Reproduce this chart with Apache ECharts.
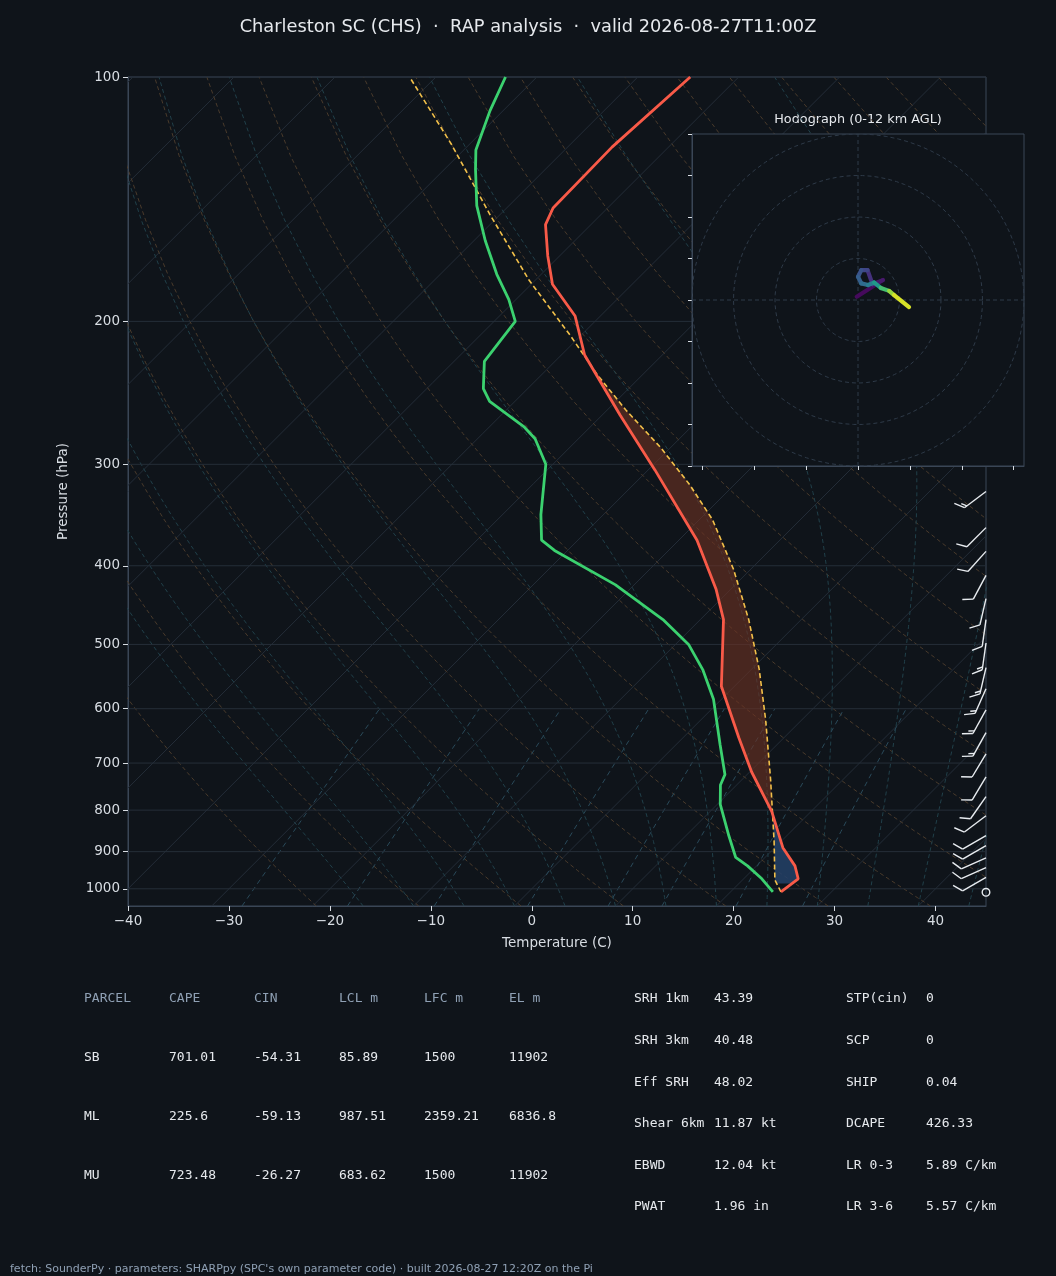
<!DOCTYPE html>
<html><head><meta charset="utf-8">
<script src="https://cdn.jsdelivr.net/npm/echarts@6/dist/echarts.min.js"></script>
<style>html,body{margin:0;padding:0;background:#0f141a}#c{width:1056px;height:1276px}</style>
</head><body><div id="c"></div>
<script>
// ---- data ----
const tempP = [1009,972,937,890,803,718,651,563,466,428,372,305,261,220,197,180,166,152,145,122,100];
const tempT = [25.0,25.4,23.8,20.8,16.1,10.2,5.5,-1.3,-7.7,-11.4,-18.2,-29.3,-38.2,-47.7,-52.5,-57.9,-61.2,-64.5,-65.4,-65.6,-64.8];
const dewP = [1009,972,937,915,861,787,745,723,665,584,537,500,466,422,383,372,346,300,279,270,251,242,224,200,188,175,159,144,130,123,110,100];
const dewT = [24.2,21.8,19.1,17.1,14.3,10.3,8.4,7.8,4.4,-0.8,-4.8,-8.7,-13.7,-21.9,-31.3,-33.6,-36.2,-40.7,-44.3,-46.5,-52.5,-54.4,-57.0,-57.9,-60.7,-64.4,-68.9,-73.2,-76.9,-78.8,-81.3,-83.1];
const parcelP = [1009,975,874,733,619,537,466,404,351,318,286,257,233,208,178,148,121,100];
const parcelT = [25.0,23.2,19.3,12.8,6.4,0.8,-5.2,-11.7,-18.7,-24.4,-31.0,-38.2,-44.4,-51.1,-60.6,-70.9,-81.8,-92.6];
const windP = [324,359,384,411,439,466,498,534,567,602,642,682,728,770,813,860,885,916,942,968];
const windDir = [233,225,222,208,193,188,188,193,204,209,209,211,211,215,233,240,240,246,246,240];
const windSpd = [15,10,10,10,10,10,15,15,15,15,15,10,10,10,10,10,10,10,10,10];
const calmP = 1010;
const hodoU = [-0.3,6,3.5,2.3,0.8,0,0.8,2.4,3.9,5.5,7.5,8.7,12.3];
const hodoV = [0.8,4.8,3.8,7.2,7.2,5.6,4.0,3.6,4.2,2.9,2.2,1.2,-1.7];
const hodoH = [0,0.6,1.2,2.2,2.8,3.3,3.8,4.6,5.6,7.2,9.6,10.6,12];
const pressureTicks = [100,200,300,400,500,600,700,800,900,1000];
const tempTicks = [-40,-30,-20,-10,0,10,20,30,40];
const parcelHeader = ['PARCEL','CAPE','CIN','LCL m','LFC m','EL m'];
const parcelRows = [
 ['SB','701.01','-54.31','85.89','1500','11902'],
 ['ML','225.6','-59.13','987.51','2359.21','6836.8'],
 ['MU','723.48','-26.27','683.62','1500','11902']];
const indexLeft = [['SRH 1km','43.39'],['SRH 3km','40.48'],['Eff SRH','48.02'],['Shear 6km','11.87 kt'],['EBWD','12.04 kt'],['PWAT','1.96 in']];
const indexRight = [['STP(cin)','0'],['SCP','0'],['SHIP','0.04'],['DCAPE','426.33'],['LR 0-3','5.89 C/km'],['LR 3-6','5.57 C/km']];
const titleText = 'Charleston SC (CHS)  ·  RAP analysis  ·  valid 2026-08-27T11:00Z';
const footerText = "fetch: SounderPy · parameters: SHARPpy (SPC's own parameter code) · built 2026-08-27 12:20Z on the Pi";

// ---- skew transform ----
const K = 80.5;
const sk = (t,p) => t + K*Math.log10(1000/p);
const prof = (P,T) => P.map((p,i)=>[sk(T[i],p),p]);

function interp(P,T,p){
  for(let i=0;i<P.length-1;i++){
    if(p<=P[i] && p>=P[i+1]){
      const f=(Math.log(p)-Math.log(P[i]))/(Math.log(P[i+1])-Math.log(P[i]));
      return T[i]+f*(T[i+1]-T[i]);
    }
  }
  return null;
}
function fillPoly(pBot,pTop,parcelAbove){
  const up=[],lo=[];
  for(let p=pBot;p>=pTop;p-=2){
    const a=sk(interp(parcelP,parcelT,p),p), b=sk(interp(tempP,tempT,p),p);
    if(parcelAbove){ up.push([Math.max(a,b),p]); lo.push([b,p]); }
    else { up.push([Math.max(a,b),p]); lo.push([a,p]); }
  }
  return up.concat(lo.reverse());
}
const capePoly = fillPoly(830,205,true);
const cinPoly = fillPoly(985,815,false);

// background lines
const bg=[];
for(let t=-120;t<=50;t+=10) bg.push({type:'iso',d:[[sk(t,1050),1050],[sk(t,100),100]]});
for(let th=250;th<=480;th+=10){const d=[];for(let p=1050;p>=100;p-=25)d.push([sk(th*Math.pow(p/1000,0.286)-273.15,p),p]);bg.push({type:'dry',d});}
function mlapse(T,p){const tc=T-273.15;const es=6.112*Math.exp(17.67*tc/(tc+243.5));const rs=0.622*es/(p-es);
 return (1/p)*(287*T+2.5e6*rs)/(1005+2.5e6*2.5e6*rs*0.622/(287*T*T));}
for(let t0=-15;t0<=45;t0+=5){let T=t0+273.15;const d=[];for(let p=1050;p>=100;p-=5){if(p%25===0)d.push([sk(T-273.15,p),p]);T-=mlapse(T,p)*5;}bg.push({type:'moist',d});}
[0.4,1,2,4,7,10,16,24].forEach(w=>{const d=[];for(let p=1050;p>=600;p-=50){const e=w/1000*p/(0.622+w/1000);const l=Math.log(e/6.112);d.push([sk(243.5*l/(17.67-l),p),p]);}bg.push({type:'mix',d});});
const bgStyle={iso:{color:'#242d38',type:'solid',width:1},dry:{color:'#4a3b2c',type:[4,3],width:1},moist:{color:'#21404a',type:[4,3],width:1},mix:{color:'#2a4a5a',type:[5,4],width:1}};

const series=[];
bg.forEach(b=>series.push({type:'line',xAxisIndex:0,yAxisIndex:0,data:b.d,showSymbol:false,silent:true,z:1,lineStyle:bgStyle[b.type],animation:false}));
pressureTicks.forEach(p=>series.push({type:'line',data:[[-40,p],[45,p]],showSymbol:false,silent:true,z:1,lineStyle:{color:'#252e38',width:1},animation:false}));
series.push({type:'custom',z:2,silent:true,data:[0],renderItem:(pr,api)=>({type:'polygon',shape:{points:capePoly.map(q=>api.coord(q))},style:{fill:'rgba(110,50,35,0.6)'}})});
series.push({type:'custom',z:2,silent:true,data:[0],renderItem:(pr,api)=>({type:'polygon',shape:{points:cinPoly.map(q=>api.coord(q))},style:{fill:'rgba(35,65,105,0.85)'}})});
series.push({type:'line',data:prof(parcelP,parcelT),showSymbol:false,z:3,lineStyle:{color:'#f2c04a',width:1.6,type:[5,3]},animation:false});
series.push({type:'line',data:prof(dewP,dewT),showSymbol:false,z:3,lineStyle:{color:'#3bd16f',width:2.8},animation:false});
series.push({type:'line',data:prof(tempP,tempT),showSymbol:false,z:3,lineStyle:{color:'#f85a48',width:2.8},animation:false});
// wind barbs
series.push({type:'custom',z:3,silent:true,data:windP.map((p,i)=>[p,windDir[i],windSpd[i]]),renderItem:(pr,api)=>{
  const p=api.value(0),dir=api.value(1)*Math.PI/180,spd=api.value(2);
  const a=api.coord([45,p]);const L=27;const sx=Math.sin(dir),sy=-Math.cos(dir);
  const tip=[a[0]+sx*L,a[1]+sy*L];const c=Math.cos(Math.PI/3),s=Math.sin(Math.PI/3);
  const bx=sx*c-sy*s,by=sx*s+sy*c;const ch=[{type:'line',shape:{x1:a[0],y1:a[1],x2:tip[0],y2:tip[1]},style:{stroke:'#e8ecf0',lineWidth:1.4}}];
  let n=Math.floor(spd/10),h=(spd%10)>=5?1:0,pos=0;
  for(let k=0;k<n;k++){const q=[tip[0]-sx*pos,tip[1]-sy*pos];ch.push({type:'line',shape:{x1:q[0],y1:q[1],x2:q[0]+bx*11,y2:q[1]+by*11},style:{stroke:'#e8ecf0',lineWidth:1.4}});pos+=3;}
  if(h){const q=[tip[0]-sx*pos,tip[1]-sy*pos];ch.push({type:'line',shape:{x1:q[0],y1:q[1],x2:q[0]+bx*6,y2:q[1]+by*6},style:{stroke:'#e8ecf0',lineWidth:1.4}});}
  return {type:'group',children:ch};}});
series.push({type:'custom',z:3,silent:true,data:[calmP],renderItem:(pr,api)=>{const a=api.coord([45,api.value(0)]);return {type:'circle',shape:{cx:a[0],cy:a[1],r:3.8},style:{fill:'none',stroke:'#e8ecf0',lineWidth:1.4}};}});
// hodograph rings
const ringStyle={color:'#2e3a48',type:[4,3],width:1};
[10,20,30,40].forEach(r=>{const d=[];for(let a=0;a<=360;a+=4)d.push([r*Math.cos(a*Math.PI/180),r*Math.sin(a*Math.PI/180)]);
 series.push({type:'line',xAxisIndex:1,yAxisIndex:1,data:d,showSymbol:false,silent:true,z:5,lineStyle:ringStyle,animation:false});});
series.push({type:'line',xAxisIndex:1,yAxisIndex:1,data:[[-40,0],[40,0]],showSymbol:false,silent:true,z:5,lineStyle:ringStyle,animation:false});
series.push({type:'line',xAxisIndex:1,yAxisIndex:1,data:[[0,-40],[0,40]],showSymbol:false,silent:true,z:5,lineStyle:ringStyle,animation:false});
const viridis=['#440154','#482878','#3e4989','#31688e','#26828e','#1f9e89','#35b779','#6ece58','#b5de2b','#fde725'];
const hodoSeg=[];for(let i=0;i<hodoU.length-1;i++)hodoSeg.push([hodoU[i],hodoV[i],hodoU[i+1],hodoV[i+1],(hodoH[i]+hodoH[i+1])/2]);
series.push({type:'custom',xAxisIndex:1,yAxisIndex:1,z:6,silent:true,data:hodoSeg,renderItem:(pr,api)=>{
  const a=api.coord([api.value(0),api.value(1)]),b=api.coord([api.value(2),api.value(3)]);
  const col=echarts.color.lerp(api.value(4)/12,viridis);
  return {type:'line',shape:{x1:a[0],y1:a[1],x2:b[0],y2:b[1]},style:{stroke:col,lineWidth:4.2,lineCap:'round'}};}});

const mono="'DejaVu Sans Mono', monospace";
const g=[];
g.push({type:'rect',shape:{x:692,y:134,width:332,height:332},style:{fill:'#0f141a'},z:4,silent:true});
g.push({type:'text',x:528,y:27,style:{text:titleText,fill:'#e6e9ed',font:'17.8px "DejaVu Sans"',textAlign:'center',textVerticalAlign:'middle'}});
g.push({type:'text',x:858,y:120,style:{text:'Hodograph (0-12 km AGL)',fill:'#e6e9ed',font:'12.8px "DejaVu Sans"',textAlign:'center',textVerticalAlign:'middle'}});
const cx=[84,169,254,339,424,509];
parcelHeader.forEach((t,i)=>g.push({type:'text',x:cx[i],y:999,style:{text:t,fill:'#8fa0b4',font:'13px '+mono,textVerticalAlign:'middle'}}));
parcelRows.forEach((r,j)=>r.forEach((t,i)=>g.push({type:'text',x:cx[i],y:1058+59*j,style:{text:t,fill:'#e6e9ed',font:'13px '+mono,textVerticalAlign:'middle'}})));
indexLeft.forEach((r,j)=>{g.push({type:'text',x:634,y:999+41.6*j,style:{text:r[0],fill:'#e6e9ed',font:'13px '+mono,textVerticalAlign:'middle'}});g.push({type:'text',x:714,y:999+41.6*j,style:{text:r[1],fill:'#e6e9ed',font:'13px '+mono,textVerticalAlign:'middle'}});});
indexRight.forEach((r,j)=>{g.push({type:'text',x:846,y:999+41.6*j,style:{text:r[0],fill:'#e6e9ed',font:'13px '+mono,textVerticalAlign:'middle'}});g.push({type:'text',x:926,y:999+41.6*j,style:{text:r[1],fill:'#e6e9ed',font:'13px '+mono,textVerticalAlign:'middle'}});});
g.push({type:'text',x:10,y:1269,style:{text:footerText,fill:'#8fa0b4',font:'11px "DejaVu Sans"',textVerticalAlign:'middle'}});

const ax={color:'#d8dde3',fontSize:13.5,fontFamily:'DejaVu Sans'};
const chart=echarts.init(document.getElementById('c'),null,{renderer:'canvas'});
chart.setOption({
 backgroundColor:'#0f141a',animation:false,
 grid:[{left:128,top:77,width:858,height:829,show:true,borderColor:'#3a4656',backgroundColor:'transparent'},
       {left:692,top:134,width:332,height:332,show:true,borderColor:'#3a4656',z:5,backgroundColor:'transparent'}],
 xAxis:[{type:'value',gridIndex:0,min:-40,max:45,name:'Temperature (C)',nameLocation:'middle',nameGap:30,nameTextStyle:ax,
   axisLine:{onZero:false,lineStyle:{color:'#3a4656'}},axisTick:{customValues:tempTicks,lineStyle:{color:'#d8dde3'},length:5},
   axisLabel:{...ax,customValues:tempTicks,formatter:v=>String(v).replace('-','\u2212')},splitLine:{show:false}},
  {type:'value',gridIndex:1,min:-40,max:40,z:5,axisLine:{onZero:false,lineStyle:{color:'#3a4656'}},axisTick:{customValues:[-37.5,-25,-12.5,0,12.5,25,37.5],lineStyle:{color:'#d8dde3'},length:4},axisLabel:{show:false},splitLine:{show:false}}],
 yAxis:[{type:'log',gridIndex:0,logBase:10,min:100,max:1050,inverse:true,name:'Pressure (hPa)',nameLocation:'middle',nameGap:58,nameTextStyle:ax,
   axisLine:{onZero:false,lineStyle:{color:'#3a4656'}},axisTick:{customValues:pressureTicks,lineStyle:{color:'#d8dde3'},length:5},
   axisLabel:{...ax,customValues:pressureTicks,formatter:v=>String(Math.round(v))},splitLine:{show:false},minorTick:{show:false}},
  {type:'value',gridIndex:1,min:-40,max:40,interval:10,z:5,axisLine:{onZero:false,lineStyle:{color:'#3a4656'}},axisTick:{lineStyle:{color:'#d8dde3'},length:4},axisLabel:{show:false},splitLine:{show:false}}],
 series,graphic:{elements:g}
});
</script></body></html>
